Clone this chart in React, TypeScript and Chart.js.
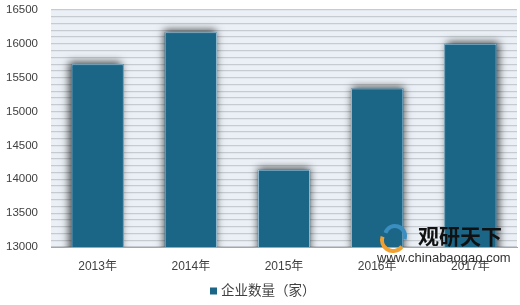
import React, { useEffect, useRef } from "react";
import { Chart, registerables } from "chart.js";

Chart.register(...registerables);

const categories = ["2013年", "2014年", "2015年", "2016年", "2017年"];
const values = [15700, 16170, 14140, 15340, 16000];
const seriesName = "企业数量（家）";
const yMin = 13000;
const yMax = 16500;

const FONT = '"Liberation Sans", "Noto Sans CJK SC", sans-serif';
const BAR_COLOR = "#1b6586";

export default function App() {
  const ref = useRef<HTMLCanvasElement | null>(null);

  useEffect(() => {
    document.body.style.margin = "0";
    const canvas = ref.current!;
    const bgPlugin = {
      id: "bg",
      beforeDraw(chart: any) {
        const { ctx, chartArea: a } = chart;
        ctx.save();
        ctx.fillStyle = "#eaf0f6";
        ctx.fillRect(a.left, a.top, a.right - a.left, a.bottom - a.top);
        ctx.restore();
      },
      beforeDatasetsDraw(chart: any) {
        const ctx = chart.ctx;
        const a = chart.chartArea;
        const cx = (a.left + a.right) / 2;
        const meta = chart.getDatasetMeta(0);
        meta.data.forEach((bar: any) => {
          const p = bar.getProps(["x", "y", "base", "width"], true);
          ctx.save();
          ctx.beginPath();
          ctx.rect(a.left, a.top - 10, a.right - a.left, a.bottom - a.top + 10);
          ctx.clip();
          ctx.shadowColor = "rgba(0,0,0,0.7)";
          ctx.shadowBlur = 8;
          ctx.shadowOffsetX = ((p.x - cx) / (a.right - cx)) * 3;
          ctx.shadowOffsetY = -2;
          ctx.fillStyle = BAR_COLOR;
          ctx.fillRect(p.x - p.width / 2, p.y, p.width, p.base - p.y);
          ctx.restore();
        });
      },
      afterDraw(chart: any) {
        const ctx = chart.ctx;
        ctx.save();
        // legend
        const ds = chart.data.datasets[0];
        ctx.font = '13.5px ' + FONT;
        const tw = ctx.measureText(ds.label).width;
        const total = 7 + 4 + tw;
        const lx = Math.round((526 - total) / 2);
        const ly = 291;
        ctx.fillStyle = ds.backgroundColor;
        ctx.fillRect(lx, ly - 3.5, 7, 7);
        ctx.fillStyle = "#404040";
        ctx.textBaseline = "middle";
        ctx.textAlign = "left";
        ctx.fillText(ds.label, lx + 11, ly);
        // watermark logo
        ctx.lineWidth = 4;
        ctx.strokeStyle = "#f0a030";
        ctx.beginPath();
        ctx.arc(393, 240, 11, Math.PI * 0.2, Math.PI * 1.1);
        ctx.stroke();
        ctx.strokeStyle = "#3a8fc0";
        ctx.beginPath();
        ctx.arc(395, 236, 10, Math.PI * 1.1, Math.PI * 2.1);
        ctx.stroke();
        ctx.fillStyle = "#111";
        ctx.font = 'bold 21px "Noto Sans CJK SC", sans-serif';
        ctx.fillText("观研天下", 418, 236);
        ctx.fillStyle = "#333";
        ctx.font = '13px "Liberation Sans", sans-serif';
        ctx.fillText("www.chinabaogao.com", 377, 258);
        ctx.restore();
      },
    };

    const chart = new Chart(canvas, {
      type: "bar",
      data: {
        labels: categories,
        datasets: [
          {
            label: seriesName,
            data: values,
            backgroundColor: BAR_COLOR,
            borderColor: "#a9c9dc",
            borderWidth: 1,
            categoryPercentage: 1,
            barPercentage: 0.56,
          },
        ],
      },
      options: {
        responsive: false,
        animation: false,
        layout: { padding: { top: 10, right: 3, left: 0, bottom: 20 } },
        plugins: {
          legend: { display: false },
          tooltip: { enabled: false },
        },
        scales: {
          x: {
            grid: { display: false, drawTicks: false },
            border: { display: true, color: "#a6a6a6" },
            ticks: {
              color: "#404040",
              font: { family: FONT, size: 12 },
              padding: 12,
            },
            afterFit(scale: any) {
              scale.height = 38;
              scale.paddingLeft = 0;
              scale.paddingRight = 0;
            },
          },
          y: {
            min: yMin,
            max: yMax,
            grid: { color: "#c6cbd1", lineWidth: 1.2, drawTicks: false },
            border: { display: false },
            ticks: {
              stepSize: 100,
              autoSkip: false,
              padding: 13,
              color: "#404040",
              font: { family: FONT, size: 11.5 },
              callback: (v: any) => (Number(v) % 500 === 0 ? String(v) : ""),
            },
            afterFit(scale: any) {
              scale.width = 51;
              scale.paddingTop = 0;
              scale.paddingBottom = 0;
            },
          },
        },
      },
      plugins: [bgPlugin],
    });
    return () => chart.destroy();
  }, []);

  return <canvas ref={ref} width={520} height={305} style={{ display: "block" }} />;
}
